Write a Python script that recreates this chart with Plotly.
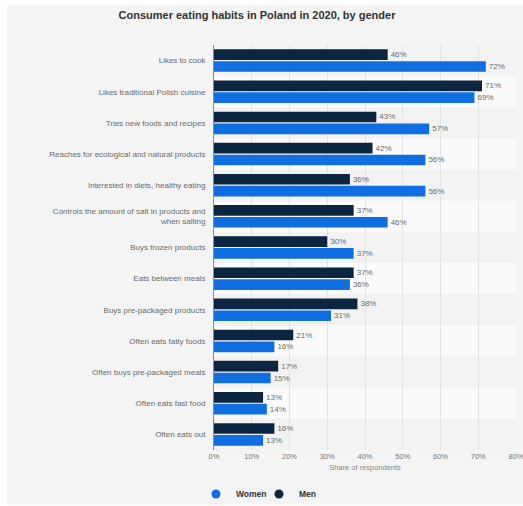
import plotly.graph_objects as go

categories = [
    "Likes to cook",
    "Likes traditional Polish cuisine",
    "Tries new foods and recipes",
    "Reaches for ecological and natural products",
    "Interested in diets, healthy eating",
    "Controls the amount of salt in products and<br>when salting",
    "Buys frozen products",
    "Eats between meals",
    "Buys pre-packaged products",
    "Often eats fatty foods",
    "Often buys pre-packaged meals",
    "Often eats fast food",
    "Often eats out",
]
men = [46, 71, 43, 42, 36, 37, 30, 37, 38, 21, 17, 13, 16]
women = [72, 69, 57, 56, 56, 46, 37, 36, 31, 16, 15, 14, 13]
x_ticks = [0, 10, 20, 30, 40, 50, 60, 70, 80]
x_ticktext = [f"{v}%" for v in x_ticks]

W, H = 523, 506
ML, MR, MT, MB = 214, 7, 45, 56
PW, PH = W - ML - MR, H - MT - MB

WOMEN_C = "#0f6fe0"
MEN_C = "#0c2540"
FONT = "Liberation Sans, Arial, sans-serif"

def px_x(px):
    return (px - ML) / PW

def px_y(py):
    return (H - MB - py) / PH

fig = go.Figure()
fig.add_trace(go.Bar(
    y=categories, x=men, orientation="h", name="Men",
    marker=dict(color=MEN_C, line=dict(width=0)),
    text=[f"{v}%" for v in men], textposition="outside",
    textfont=dict(size=8, color="#6b6b6b", family=FONT),
    cliponaxis=False, showlegend=False,
))
fig.add_trace(go.Bar(
    y=categories, x=women, orientation="h", name="Women",
    marker=dict(color=WOMEN_C, line=dict(width=0)),
    text=[f"{v}%" for v in women], textposition="outside",
    textfont=dict(size=8, color="#6b6b6b", family=FONT),
    cliponaxis=False, showlegend=False,
))
# legend entries with round markers
fig.add_trace(go.Scatter(x=[None], y=[None], mode="markers", name="Women",
                         marker=dict(symbol="circle", size=9, color=WOMEN_C),
                         legendrank=1))
fig.add_trace(go.Scatter(x=[None], y=[None], mode="markers", name="Men",
                         marker=dict(symbol="circle", size=9, color=MEN_C),
                         legendrank=2))

shapes = []
# white outer border strips (left, top, bottom)
shapes.append(dict(type="rect", xref="paper", yref="paper", layer="below",
                   x0=px_x(0), x1=px_x(7), y0=px_y(H), y1=px_y(0),
                   fillcolor="white", line=dict(width=0)))
shapes.append(dict(type="rect", xref="paper", yref="paper", layer="below",
                   x0=px_x(0), x1=px_x(W), y0=px_y(5), y1=px_y(0),
                   fillcolor="white", line=dict(width=0)))
shapes.append(dict(type="rect", xref="paper", yref="paper", layer="below",
                   x0=px_x(0), x1=px_x(W), y0=px_y(H), y1=px_y(505),
                   fillcolor="white", line=dict(width=0)))
# alternating row bands
for i in range(len(categories)):
    if i % 2 == 1:
        shapes.append(dict(type="rect", xref="paper", yref="y", layer="below",
                           x0=0, x1=1, y0=i - 0.5, y1=i + 0.5,
                           fillcolor="#fafafa", line=dict(width=0)))

fig.update_layout(
    width=W, height=H,
    margin=dict(l=ML, r=MR, t=MT, b=MB, autoexpand=False),
    paper_bgcolor="#f4f4f4",
    plot_bgcolor="#f2f2f2",
    font=dict(family=FONT, color="#666666", size=8),
    barmode="group", bargap=0.24, bargroupgap=0.1,
    shapes=shapes,
    title=dict(text="<b>Consumer eating habits in Poland in 2020, by gender</b>",
               x=257 / W, xanchor="center", y=1 - 15 / H, yanchor="middle",
               font=dict(size=11, color="#333333", family=FONT)),
    legend=dict(orientation="h", xref="container", x=196 / W, xanchor="left",
                yref="container", y=1 - 494 / H, yanchor="middle",
                bgcolor="rgba(0,0,0,0)",
                font=dict(size=8.5, color="#333333", family=FONT, weight="bold"),
                traceorder="normal", itemwidth=30, entrywidth=18),
    xaxis=dict(range=[0, 80], tickvals=x_ticks, ticktext=x_ticktext,
               showgrid=True, gridcolor="#e2e2e2", gridwidth=1,
               zeroline=False, showline=False, ticks="",
               ticklabeloverflow="allow", automargin=False,
               tickfont=dict(size=7.5, color="#777777"),
               title=dict(text="Share of respondents", standoff=5,
                          font=dict(size=7.5, color="#888888"))),
    yaxis=dict(autorange="reversed", showgrid=False, zeroline=False,
               showline=True, linecolor="#8a8a8a", linewidth=1,
               ticks="", ticklabelstandoff=6, automargin=False,
               tickfont=dict(size=8, color="#6a6a6a")),
)

fig.write_html("out.html")
